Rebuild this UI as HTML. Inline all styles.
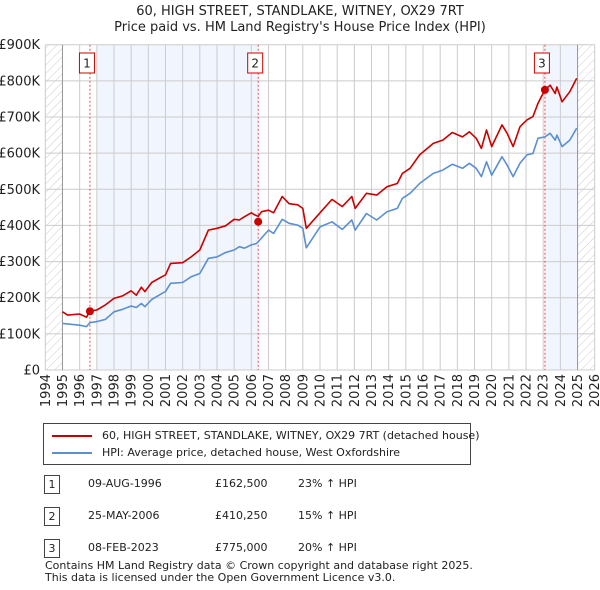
<!DOCTYPE html>
<html><head><meta charset="utf-8"><style>
body{margin:0;background:#fff;font-family:"Liberation Sans","DejaVu Sans",sans-serif;}
svg{display:block}
</style></head><body>
<svg id="c" width="600" height="590" xmlns="http://www.w3.org/2000/svg" font-family="DejaVu Sans, Liberation Sans, sans-serif"></svg>
<script>
const hpiYears=[1995,1996,1996.4,1996.6,1997,1997.5,1998,1998.5,1999,1999.3,1999.6,1999.8,2000.2,2000.8,2001,2001.3,2002,2002.5,2003,2003.5,2004,2004.5,2005,2005.3,2005.6,2006,2006.3,2006.5,2007,2007.3,2007.8,2008.2,2008.7,2009,2009.2,2010,2010.7,2011.3,2011.85,2012.05,2012.7,2013.3,2013.9,2014.5,2014.8,2015.25,2015.8,2016.6,2017.15,2017.7,2018.3,2018.7,2019.1,2019.4,2019.7,2020,2020.6,2020.9,2021.25,2021.65,2022.05,2022.4,2022.7,2023.1,2023.4,2023.7,2023.8,2024.1,2024.55,2024.95];
const hpiValues=[129,124,120,131,134,140,161,168,177,173,184,175,195,212,217,240,242,258,267,309,313,325,332,341,337,346,350,360,387,378,417,406,401,392,338,396,410,389,415,387,433,415,438,447,475,489,516,544,553,569,558,572,558,535,576,539,590,567,535,572,595,599,641,645,655,636,650,618,636,669];
const priceYears=[1995,1995.3,1996,1996.4,1996.6,1997,1997.5,1998,1998.5,1999,1999.3,1999.6,1999.8,2000.2,2000.8,2001,2001.3,2002,2002.5,2003,2003.5,2004,2004.5,2005,2005.3,2005.6,2006,2006.2,2006.4,2006.6,2007,2007.3,2007.8,2008.2,2008.7,2009,2009.2,2010,2010.7,2011.3,2011.85,2012.05,2012.7,2013.3,2013.9,2014.5,2014.8,2015.25,2015.8,2016.6,2017.15,2017.7,2018.3,2018.7,2019.1,2019.4,2019.7,2020,2020.6,2020.9,2021.25,2021.65,2022.05,2022.4,2022.7,2023.1,2023.4,2023.7,2023.8,2024.1,2024.55,2024.95];
const priceValues=[161,152,155,146,163,166,180,198,205,219,207,229,217,242,258,263,295,297,313,332,387,392,399,417,415,424,435,429,425,438,442,435,480,460,457,447,392,435,472,452,480,447,489,484,507,516,544,558,595,627,636,657,645,659,641,613,664,618,678,655,618,673,692,701,738,775,788,765,783,742,770,807];
const saleYears=[1996.6,2006.4,2023.1];
const salePrices=[162.5,410.25,775];
const saleLabels=["1","2","3"];
const yTicks=[0,100,200,300,400,500,600,700,800,900];
const yTickLabels=["£0","£100K","£200K","£300K","£400K","£500K","£600K","£700K","£800K","£900K"];
const xTicks=[1994,1995,1996,1997,1998,1999,2000,2001,2002,2003,2004,2005,2006,2007,2008,2009,2010,2011,2012,2013,2014,2015,2016,2017,2018,2019,2020,2021,2022,2023,2024,2025,2026];

const NS="http://www.w3.org/2000/svg";
const svg=document.getElementById('c');
const X0=45.3,X1=594.7,Y0=370,Y1=44.7;
const xs=y=>X0+(y-1994)/32*(X1-X0);
const ys=v=>Y0-v/900*(Y0-Y1);
function mk(tag,attrs,parent){const e=document.createElementNS(NS,tag);for(const k in attrs)e.setAttribute(k,attrs[k]);(parent||svg).appendChild(e);return e;}

const defs=mk('defs',{});
const pat=mk('pattern',{id:'hatch',width:6,height:6,patternUnits:'userSpaceOnUse',patternTransform:'rotate(45)'},defs);
mk('line',{x1:0,y1:0,x2:0,y2:6,stroke:'#ccc','stroke-width':1},pat);

let e;
e=mk('rect',{x:xs(1994),y:Y1,width:xs(1995)-xs(1994),height:Y0-Y1,fill:'url(#hatch)'});

e=mk('rect',{x:xs(2025),y:Y1,width:xs(2026)-xs(2025),height:Y0-Y1,fill:'url(#hatch)'});

e=mk('rect',{x:xs(1997),y:Y1,width:xs(saleYears[1])-xs(1997),height:Y0-Y1,fill:'#eef3fc',opacity:0.8});

e=mk('rect',{x:xs(saleYears[2]),y:Y1,width:xs(2025)-xs(saleYears[2]),height:Y0-Y1,fill:'#eef3fc',opacity:0.8});


yTicks.forEach((t,i)=>{
  const l=mk('line',{x1:X0,x2:X1,y1:ys(t),y2:ys(t),stroke:'#ccc','stroke-width':1});
  
  const tx=mk('text',{x:40,y:ys(t)+4.5,'text-anchor':'end','font-size':13,fill:'#222'});
  tx.textContent=yTickLabels[i];
  
});
xTicks.forEach(t=>{
  const l=mk('line',{x1:xs(t),x2:xs(t),y1:Y1,y2:Y0,stroke:'#ccc','stroke-width':1});
  
  const tx=mk('text',{x:0,y:0,'text-anchor':'end','font-size':13,fill:'#222',transform:`translate(${xs(t)+4.5},374) rotate(-90)`});
  tx.textContent=t;
  
});
e=mk('line',{x1:xs(1995),x2:xs(1995),y1:Y1,y2:Y0,stroke:'#999','stroke-width':1});

e=mk('line',{x1:xs(2025),x2:xs(2025),y1:Y1,y2:Y0,stroke:'#999','stroke-width':1});


saleYears.forEach((s,i)=>{
  const l=mk('line',{x1:xs(s),x2:xs(s),y1:Y1,y2:Y0,stroke:'#e05050','stroke-width':1,'stroke-dasharray':'2,2'});
  
  const bx=xs(s)-10.5;
  const r=mk('rect',{x:bx,y:53,width:15,height:20,fill:'#fff',stroke:'#c00','stroke-width':1});
  
  const t=mk('text',{x:bx+7.5,y:67.5,'text-anchor':'middle','font-size':12,fill:'#222'});
  t.textContent=saleLabels[i];
  
});

function line(xa,va,color,name){
  const d=xa.map((y,i)=>(i?'L':'M')+xs(y).toFixed(1)+','+ys(va[i]).toFixed(1)).join('');
  const p=mk('path',{d:d,fill:'none',stroke:color,'stroke-width':1.6,'stroke-linejoin':'round'});
  
}
line(hpiYears,hpiValues,'#5b8fd4','hpi-line');
line(priceYears,priceValues,'#cc0000','price-line');
saleYears.forEach((s,i)=>{
  const c=mk('circle',{cx:xs(s),cy:ys(salePrices[i]),r:4,fill:'#cc0000'});
  
});
</script>
<div style="position:absolute;left:0;top:0;width:600px;text-align:center;font-size:13px;color:#222;line-height:16px;font-family:'DejaVu Sans','Liberation Sans',sans-serif">
<div style="margin-top:4px">60, HIGH STREET, STANDLAKE, WITNEY, OX29 7RT</div>
<div>Price paid vs. HM Land Registry's House Price Index (HPI)</div></div>
<div style="position:absolute;left:43px;top:423px;width:426px;height:40px;border:1px solid #444;font-size:11px;font-family:'DejaVu Sans','Liberation Sans',sans-serif;color:#222">
<div style="position:absolute;left:8px;top:5px;white-space:nowrap"><span style="display:inline-block;width:40px;height:2px;background:#cc0000;vertical-align:middle;margin-right:10px"></span>60, HIGH STREET, STANDLAKE, WITNEY, OX29 7RT (detached house)</div>
<div style="position:absolute;left:8px;top:22px;white-space:nowrap"><span style="display:inline-block;width:40px;height:2px;background:#5b8fd4;vertical-align:middle;margin-right:10px"></span>HPI: Average price, detached house, West Oxfordshire</div>
</div>
<div style="position:absolute;left:0;top:0;font-size:11px;font-family:'DejaVu Sans','Liberation Sans',sans-serif;color:#222">
<div>
<div style="position:absolute;left:44px;top:475px;width:14px;height:17px;border:1px solid #444;text-align:center;line-height:17px">1</div>
<div style="position:absolute;left:88px;top:477px;white-space:nowrap">09-AUG-1996</div>
<div style="position:absolute;left:215px;top:477px">£162,500</div>
<div style="position:absolute;left:298px;top:477px;white-space:nowrap">23% ↑ HPI</div></div>
<div>
<div style="position:absolute;left:44px;top:507px;width:14px;height:17px;border:1px solid #444;text-align:center;line-height:17px">2</div>
<div style="position:absolute;left:88px;top:509px;white-space:nowrap">25-MAY-2006</div>
<div style="position:absolute;left:215px;top:509px">£410,250</div>
<div style="position:absolute;left:298px;top:509px;white-space:nowrap">15% ↑ HPI</div></div>
<div>
<div style="position:absolute;left:44px;top:539px;width:14px;height:17px;border:1px solid #444;text-align:center;line-height:17px">3</div>
<div style="position:absolute;left:88px;top:541px;white-space:nowrap">08-FEB-2023</div>
<div style="position:absolute;left:215px;top:541px">£775,000</div>
<div style="position:absolute;left:298px;top:541px;white-space:nowrap">20% ↑ HPI</div></div>
</div>
<div style="position:absolute;left:45px;top:560px;font-size:11px;line-height:12px;color:#222;font-family:'DejaVu Sans','Liberation Sans',sans-serif">Contains HM Land Registry data © Crown copyright and database right 2025.<br>This data is licensed under the Open Government Licence v3.0.</div>
</body></html>
